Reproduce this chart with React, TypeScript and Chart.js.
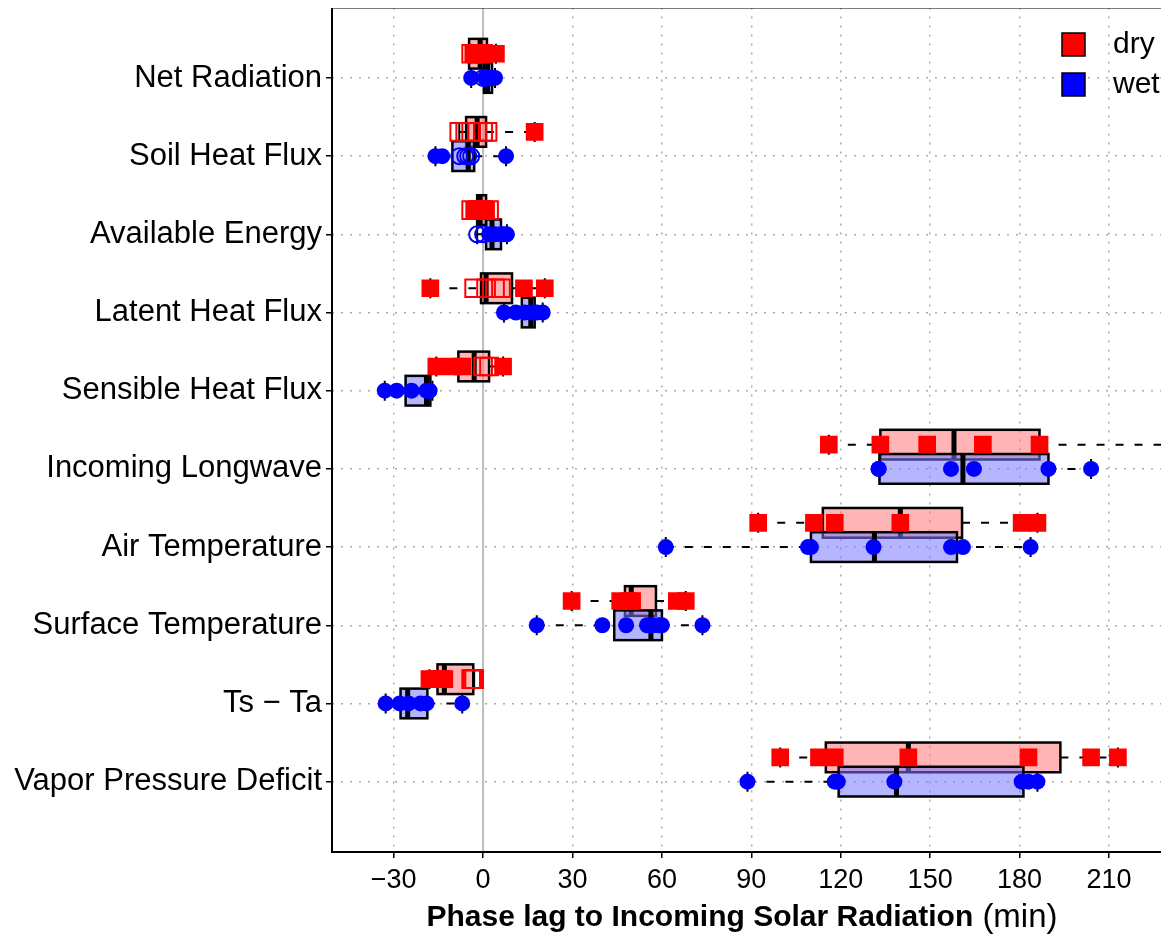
import React, { useEffect, useRef } from "react";
import { Chart, registerables } from "chart.js";
Chart.register(...registerables);

const categories = ["Net Radiation", "Soil Heat Flux", "Available Energy", "Latent Heat Flux", "Sensible Heat Flux", "Incoming Longwave", "Air Temperature", "Surface Temperature", "Ts \u2212 Ta", "Vapor Pressure Deficit"];
const xTicks = [-30, 0, 30, 60, 90, 120, 150, 180, 210];

// [lowWhisker, q1, median, q3, highWhisker]
const dryBox = [
  [-4, -4.7, -1, 1.3, 4.3],
  [-8, -5.7, -2, 1, 17.3],
  [-4, -2, -1, 1, 2],
  [-17.7, -0.7, 1, 9.7, 20.7],
  [-15.7, -8.3, -3, 2, 6.7],
  [116, 133.3, 158, 186.7, 232],
  [92.3, 114, 140, 160.7, 186],
  [29.7, 47.6, 49.7, 58, 68],
  [-18, -15.3, -13, -3.3, -3],
  [99.7, 115, 142.7, 193.7, 213],
];
const wetBox = [
  [-4, 0.3, 1.5, 3, 4],
  [-16, -10.3, -5, -3, 7.7],
  [-2, 1, 3, 6, 8],
  [7, 13, 16, 17.3, 20],
  [-33, -26, -19, -17.7, -17],
  [133, 133, 161, 189.7, 204],
  [61.3, 110, 131.3, 159, 183.7],
  [18, 44, 56.3, 60, 73.6],
  [-32.7, -27.7, -25.3, -18.7, -7],
  [88.7, 119.3, 138.7, 181.3, 186],
];
const dryFilled = [
  [-3.3, -2.7, -1.3, 0, 4.3],
  [17.3],
  [-3, -2, -1, 0, 1],
  [-17.7, 13.7, 20.7],
  [-15.7, -10, -7, 6.7],
  [116, 133.3, 149, 167.7, 186.7],
  [92.3, 111, 118, 140, 180.7, 186],
  [29.7, 46, 49, 50, 65, 68],
  [-18, -16, -14, -13],
  [99.7, 112.7, 118, 142.7, 183, 204, 213],
];
const dryHollow = [
  [-4, -2, 0],
  [-8, -6, -4, -2, 0, 1.5],
  [-4, -2, 0, 2],
  [-3, 1, 4, 6],
  [0, 2],
  [], [], [],
  [-4, -3.5, -3],
  [],
];
const wetFilled = [
  [-4, 1, 2, 3.3, 4],
  [-16, -13.7, 7.7],
  [2, 4, 6, 7, 8],
  [7, 11, 14, 16, 17, 18, 20],
  [-33, -29, -24, -19, -18, -18],
  [132.7, 132.7, 157, 164.7, 189.7, 204],
  [61.3, 109, 110, 131, 157, 161, 183.7],
  [18, 40, 48, 55, 57, 59, 60, 73.6],
  [-32.7, -28, -25, -21, -19, -7],
  [88.7, 118, 119, 138, 180.7, 183, 186],
];
const wetHollow = [
  [0, 1],
  [-8, -6, -5, -4],
  [-2, 0],
  [], [], [], [], [], [], [],
];

const DRY_OFF = -0.31;
const WET_OFF = 0;
const HALF = 0.19;
const FONT = "'Liberation Sans', Arial, sans-serif";

function pts(arr: number[][], off: number) {
  const out: { x: number; y: number }[] = [];
  arr.forEach((row, i) => row.forEach((v) => out.push({ x: v, y: i + off })));
  return out;
}

const boxPlugin = {
  id: "boxes",
  beforeDatasetsDraw(chart: any) {
    const { ctx, chartArea: a, scales } = chart;
    const xs = scales.x, ys = scales.y;
    ctx.save();
    ctx.beginPath();
    ctx.rect(a.left, a.top, a.right - a.left, a.bottom - a.top);
    ctx.clip();
    ctx.strokeStyle = "#bdbdbd";
    ctx.lineWidth = 2;
    ctx.beginPath();
    ctx.moveTo(xs.getPixelForValue(0), a.top);
    ctx.lineTo(xs.getPixelForValue(0), a.bottom);
    ctx.stroke();
    const draw = (b: number[], i: number, off: number, fill: string) => {
      const [lo, q1, md, q3, hi] = b;
      const yc = ys.getPixelForValue(i + off);
      const yt = ys.getPixelForValue(i + off - HALF);
      const yb = ys.getPixelForValue(i + off + HALF);
      const X = (v: number) => xs.getPixelForValue(v);
      ctx.strokeStyle = "#000";
      ctx.lineWidth = 2;
      ctx.setLineDash([8, 11]);
      ctx.beginPath();
      ctx.moveTo(X(lo), yc); ctx.lineTo(X(q1), yc);
      ctx.moveTo(X(q3), yc); ctx.lineTo(X(hi), yc);
      ctx.stroke();
      ctx.setLineDash([]);
      ctx.beginPath();
      ctx.moveTo(X(lo), yc - 10); ctx.lineTo(X(lo), yc + 10);
      ctx.moveTo(X(hi), yc - 10); ctx.lineTo(X(hi), yc + 10);
      ctx.stroke();
      ctx.fillStyle = fill;
      ctx.fillRect(X(q1), yt, X(q3) - X(q1), yb - yt);
      ctx.lineWidth = 2.5;
      ctx.strokeRect(X(q1), yt, X(q3) - X(q1), yb - yt);
      ctx.fillStyle = "#000";
      ctx.fillRect(X(md) - 2.5, yt, 5, yb - yt);
    };
    dryBox.forEach((b, i) => draw(b, i, DRY_OFF, "rgba(255,120,120,0.55)"));
    wetBox.forEach((b, i) => draw(b, i, WET_OFF, "rgba(120,120,255,0.55)"));
    ctx.restore();
  },
  afterDraw(chart: any) {
    const { ctx, chartArea: a } = chart;
    ctx.save();
    ctx.strokeStyle = "#000";
    ctx.lineWidth = 2;
    ctx.beginPath();
    ctx.moveTo(a.right + 15, a.top); ctx.lineTo(a.left, a.top); ctx.lineTo(a.left, a.bottom); ctx.lineTo(a.right + 15, a.bottom);
    ctx.stroke();
    const items = [["dry", "#ff0000", 48], ["wet", "#0000ff", 88]] as const;
    ctx.font = "30px " + FONT;
    ctx.textBaseline = "middle";
    items.forEach(([t, c, y]) => {
      ctx.fillStyle = c;
      ctx.fillRect(1054, y, 23, 23);
      ctx.lineWidth = 1.5;
      ctx.strokeRect(1054, y, 23, 23);
      ctx.fillStyle = "#000";
      ctx.fillText(t, 1105, y + 12);
    });
    const bold = "bold 30px " + FONT;
    const norm = "33px " + FONT;
    const t1 = "Phase lag to Incoming Solar Radiation";
    const t2 = " (min)";
    ctx.font = bold; const w1 = ctx.measureText(t1).width;
    ctx.font = norm; const w2 = ctx.measureText(t2).width;
    const cx = 742 - 8;
    const x0 = cx - (w1 + w2) / 2;
    ctx.textAlign = "left";
    ctx.font = bold; ctx.fillText(t1, x0, 933);
    ctx.font = norm; ctx.fillText(t2, x0 + w1, 933);
    ctx.restore();
  },
};

export default function App() {
  const ref = useRef<HTMLCanvasElement>(null);
  useEffect(() => {
    const chart = new Chart(ref.current!, {
      type: "scatter",
      data: {
        datasets: [
          { data: pts(wetHollow, WET_OFF), pointStyle: "circle", pointRadius: 8, backgroundColor: "rgba(0,0,0,0)", borderColor: "#0000ff", borderWidth: 2 },
          { data: pts(wetFilled, WET_OFF), pointStyle: "circle", pointRadius: 8, backgroundColor: "#0000ff", borderColor: "#0000ff", borderWidth: 0 },
          { data: pts(dryHollow, DRY_OFF), pointStyle: "rect", pointRadius: 12.5, backgroundColor: "rgba(0,0,0,0)", borderColor: "#ff0000", borderWidth: 2 },
          { data: pts(dryFilled, DRY_OFF), pointStyle: "rect", pointRadius: 12.5, backgroundColor: "#ff0000", borderColor: "#ff0000", borderWidth: 0 },
        ] as any,
      },
      options: {
        animation: false,
        responsive: false,
        layout: { padding: 0 },
        plugins: { legend: { display: false }, tooltip: { enabled: false } },
        scales: {
          x: {
            type: "linear", min: -50.7, max: 228.3,
            afterBuildTicks: (s: any) => { s.ticks = xTicks.map((v) => ({ value: v })); },
            afterFit: (s: any) => { s.height = 92; },
            ticks: { color: "#000", font: { size: 27, family: FONT }, padding: 6, callback: (v: any) => String(v).replace("-", "\u2212") },
            grid: { color: "#aaaaaa", lineWidth: 1.5, tickLength: 6, tickColor: "#000", drawOnChartArea: true },
            border: { display: false, dash: [2, 7] },
          },
          y: {
            type: "linear", min: -0.9, max: 9.9, reverse: true,
            afterBuildTicks: (s: any) => { s.ticks = categories.map((_, i) => ({ value: i })); },
            afterFit: (s: any) => { s.width = 324; },
            ticks: { color: "#000", font: { size: 31, family: FONT }, padding: 4, callback: (v: any) => categories[v] ?? "" },
            grid: { color: "#aaaaaa", lineWidth: 1.5, tickLength: 6, tickColor: "#000" },
            border: { display: false, dash: [2, 7] },
          },
        },
      },
      plugins: [boxPlugin],
    });
    return () => chart.destroy();
  }, []);
  return (
    <div style={{ width: 1161, overflow: "hidden" }}>
      <canvas ref={ref} width={1170} height={959} style={{ display: "block", marginTop: -23 }} />
    </div>
  );
}
